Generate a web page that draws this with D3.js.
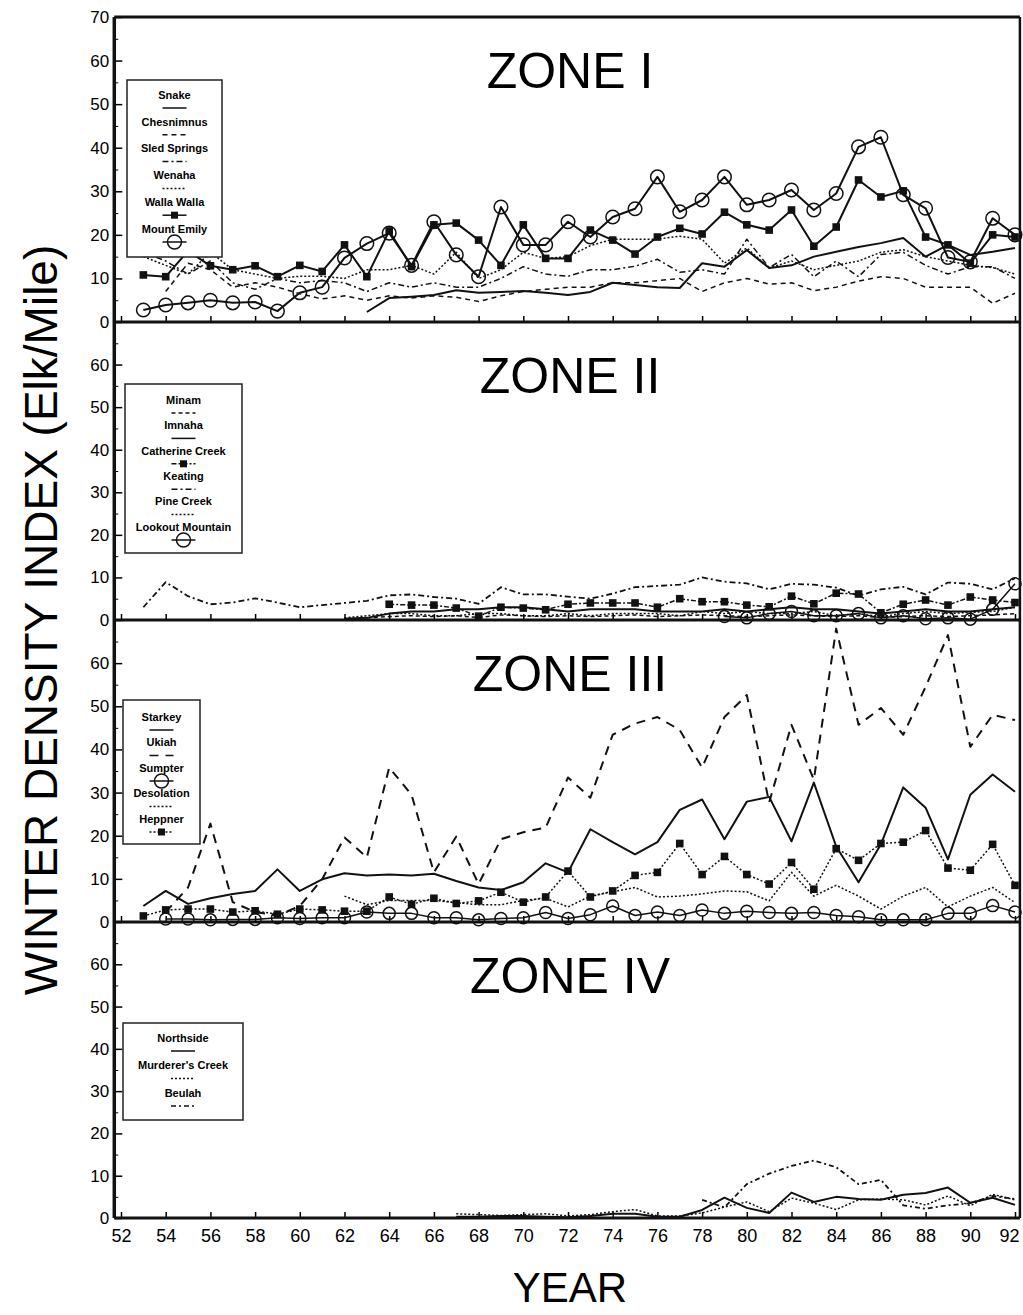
<!DOCTYPE html>
<html>
<head>
<meta charset="utf-8">
<script src="https://cdn.jsdelivr.net/npm/d3@7"></script>
<style>
body { margin: 0; background: #fff; }
svg { display: block; font-family: "Liberation Sans", Arial, sans-serif; }
</style>
</head>
<body>
<div id="chart"></div>
<script>
// Tick labels
var yearTicks = [52, 54, 56, 58, 60, 62, 64, 66, 68, 70, 72, 74, 76, 78, 80, 82, 84, 86, 88, 90, 92];
var densityTicks = [0, 10, 20, 30, 40, 50, 60];
var minorTicks = [5, 15, 25, 35, 45, 55, 65];

// Zone I (values from the start year, one per year)
var snake = [2.3, 5.5, 5.8, 6.2, 7.3, 6.7, 6.9, 7.1, 6.7, 6.2, 6.9, 9, 8.5, 8, 7.8, 13.5, 12.7, 16.5, 12.4, 13, 15, 16.1, 17.2, 18.1, 19.3, 15, 17.7, 15.4, 16.1, 17];
var chesnimnus = [7, 13.5, 12, 8, 9, 8, 6.5, 5.3, 6, 5, 6, 5.5, 6, 5.7, 4.7, 6, 7, 7.5, 8, 8, 9, 9, 9.5, 10, 7, 9, 10, 8.7, 9, 7.2, 8, 9.4, 10.4, 10, 8, 8, 8, 4.3, 6.6];
var sledSprings = [16, 14, 11, 14, 9, 7.5, 10, 9, 9.5, 9, 7, 9, 8, 9, 8, 8, 10, 12.7, 11, 10.5, 12, 12, 12.8, 14.4, 11.4, 12, 11, 19, 12.5, 15.5, 10.4, 14, 10.4, 15.5, 16, 13, 11, 12.7, 12.7, 10];
var wenaha = [15, 13, 11, 16, 12, 11, 10, 10.5, 10.5, 10, 12, 12, 13, 11, 16, 10, 12, 16, 14.6, 15, 17.5, 19, 19, 19, 19.7, 19, 13.5, 17, 12.4, 14, 12, 13, 14, 16, 16.6, 15, 14, 13, 12.5, 11];
var wallaWalla = [10.8, 10.4, 16.3, 12.9, 12, 12.9, 10.4, 13, 11.6, 17.7, 10.4, 20.9, 12.7, 22.3, 22.7, 18.8, 13, 22.3, 14.6, 14.6, 21.1, 18.8, 15.6, 19.5, 21.5, 20.2, 25.2, 22.3, 21.1, 25.7, 17.4, 21.8, 32.6, 28.7, 30.1, 19.5, 17.7, 13.5, 20, 19.5];
var mountEmily = [2.75, 3.9, 4.4, 5, 4.4, 4.6, 2.5, 6.7, 8, 14.7, 18, 20.4, 13, 23, 15.4, 10.4, 26.4, 17.7, 17.7, 23, 19.5, 24.1, 26, 33.3, 25.3, 28, 33.3, 26.9, 28, 30.3, 25.7, 29.5, 40.2, 42.4, 29.2, 26.1, 14.8, 13.8, 23.8, 20];

// Zone II
var minam = [0.5, 0.8, 1, 0.8, 1, 0.6, 1.2, 1, 0.8, 1, 0.8, 1, 1.2, 0.8, 1, 1.2, 1, 0.8, 1, 1.2, 1, 0.8, 1, 0.6, 0.8, 1, 0.8, 1, 1.2, 1.5];
var imnaha = [0.3, 0.5, 1.5, 2, 2, 2.5, 2.5, 3, 3, 2.5, 2, 2.5, 2.5, 2.5, 2, 2, 2, 2.5, 2, 2.5, 3, 2.5, 2.5, 2, 1.5, 2, 2.5, 2, 2, 2.5, 3];
var catherineCreek = [3.7, 3.5, 3.5, 2.8, 0.9, 3, 2.8, 2.4, 3.7, 4, 4, 4, 3, 5, 4.3, 4.3, 3.5, 3.1, 5.6, 3.8, 6.3, 6.1, 1.7, 3.7, 4.7, 3.5, 5.4, 4.7, 4.1];
var keating = [3, 8.9, 5.6, 3.7, 4.1, 5.1, 4.1, 3, 3.5, 4, 4.5, 5.8, 6, 5.4, 5, 3.8, 7.7, 6, 6, 5.5, 5, 6.2, 7.7, 8, 8.3, 10, 9, 8.6, 7.2, 8.5, 8.3, 7.6, 5.7, 7.2, 7.8, 6, 8.8, 8.5, 7.2, 9.8];
var pineCreek = [0.5, 1, 1.5, 1.5, 1, 1, 1.5, 1.5, 1, 1, 1.5, 1, 1.5, 1.5, 1.5, 1, 2, 1.5, 2, 1.5, 1.5, 2, 1, 1.5, 0.8, 1.5, 2, 1.5, 1.8, 2, 3];
var lookoutMountain = [0.8, 0.5, 1.5, 2, 1, 1, 1.5, 0.5, 1, 0.3, 0.5, 0.2, 2.5, 8.5];

// Zone III
var starkey = [3.7, 7.2, 4.2, 5.5, 6.5, 7.2, 12.2, 7.2, 9.9, 11.3, 10.8, 11, 10.8, 11.2, 9.5, 8, 7.4, 9.2, 13.6, 11.5, 21.5, 18.5, 15.7, 18.5, 26, 28.4, 19.2, 27.9, 29, 18.7, 32.3, 17.5, 9.2, 18, 31.2, 26.5, 14.5, 29.5, 34.2, 30.2];
var ukiah = [2.3, 8, 22.8, 4.6, 2.3, 1.5, 3.7, 9.9, 19.6, 15, 35.8, 29.5, 11.5, 19.8, 8.8, 19.2, 20.8, 21.9, 33.5, 28.8, 43.4, 46, 47.5, 44.5, 35.8, 47.5, 52.6, 27.7, 45.7, 33, 68, 45.7, 49.6, 43.4, 54.5, 66.5, 40.6, 48, 46.8];
var sumpter = [0.7, 0.7, 0.5, 0.6, 0.6, 1, 0.8, 1, 1, 2.3, 2, 2, 1, 1, 0.5, 0.8, 1, 2.2, 0.8, 1.7, 3.7, 1.5, 2.3, 1.5, 2.8, 2, 2.5, 2.2, 2, 2.2, 1.5, 1.2, 0.5, 0.5, 0.5, 2, 2, 3.8, 2.3];
var desolation = [6, 4, 5, 5, 5, 4.5, 4, 4, 5, 5.5, 3.5, 6, 7, 8, 5.8, 6, 6.5, 7.2, 7, 4.9, 11.5, 6, 8.5, 6, 3, 6, 8, 3.5, 6, 8, 4.5];
var heppner = [1.4, 2.8, 3, 3, 2.3, 2.6, 1.8, 3, 2.8, 2.5, 2.5, 5.8, 4.1, 5.5, 4.3, 4.9, 6.9, 4.6, 5.8, 11.8, 5.8, 7.2, 10.8, 11.5, 18.2, 11, 15.2, 11, 8.8, 13.8, 7.6, 17, 14.3, 18.2, 18.5, 21.2, 12.5, 12, 18, 8.5];

// Zone IV
var northside = [0.3, 0.3, 0.5, 0.5, 0.3, 0.2, 0.5, 1, 1, 0.3, 0.3, 1.9, 4.8, 2.4, 1.2, 6, 3.8, 5, 4.5, 4.3, 5.5, 5.9, 7.2, 3.6, 4.8, 3.1];
var murderersCreek = [1, 0.8, 0.6, 0.8, 1, 0.5, 0.8, 1.5, 2, 0.5, 0.5, 1.2, 2.6, 3.8, 1.5, 4.7, 3.5, 2, 4.3, 4.5, 4.3, 3.1, 5.2, 2.9, 5.6, 4.3];
var beulah = [4.3, 2.5, 8, 10.5, 12.3, 13.6, 12, 8, 9, 3, 2.2, 3, 3.5, 5.2, 4.5];

var width = 1023;
var height = 1315;

var svg = d3.select("#chart")
            .append("svg")
            .attr("width", width)
            .attr("height", height);

var x = d3.scaleLinear().domain([52, 92]).range([121, 1015]);
var frameLeft = x(51.7);
var frameRight = x(92.22);

// panel edges, top to bottom
var edges = [17, 322, 620, 922, 1218];

var zones = [
    {
        title: "ZONE I",
        legend: { x: 127, y: 80, w: 95, h: 177, first: 15, step: 26.8 },
        series: [
            { name: "Snake", start: 63, values: snake, dash: null, width: 2 },
            { name: "Chesnimnus", start: 54, values: chesnimnus, dash: "5,4", width: 1.5 },
            { name: "Sled Springs", start: 53, values: sledSprings, dash: "6,3,2,3", width: 1.5 },
            { name: "Wenaha", start: 53, values: wenaha, dash: "2,2", width: 1.5 },
            { name: "Walla Walla", start: 53, values: wallaWalla, dash: null, width: 2, marker: "square" },
            { name: "Mount Emily", start: 53, values: mountEmily, dash: null, width: 2, marker: "circle" }
        ]
    },
    {
        title: "ZONE II",
        legend: { x: 125, y: 384, w: 117, h: 169, first: 16, step: 25.4 },
        series: [
            { name: "Minam", start: 63, values: minam, dash: "4,3", width: 1.5 },
            { name: "Imnaha", start: 62, values: imnaha, dash: null, width: 2 },
            { name: "Catherine Creek", start: 64, values: catherineCreek, dash: "5,2,2,2", width: 1.5, marker: "square" },
            { name: "Keating", start: 53, values: keating, dash: "6,3,2,3", width: 1.8 },
            { name: "Pine Creek", start: 62, values: pineCreek, dash: "2,2", width: 1.5 },
            { name: "Lookout Mountain", start: 79, values: lookoutMountain, dash: null, width: 1.5, marker: "circle" }
        ]
    },
    {
        title: "ZONE III",
        legend: { x: 123, y: 700, w: 77, h: 144, first: 17, step: 25.5 },
        series: [
            { name: "Starkey", start: 53, values: starkey, dash: null, width: 2 },
            { name: "Ukiah", start: 54, values: ukiah, dash: "9,7", width: 2 },
            { name: "Sumpter", start: 54, values: sumpter, dash: null, width: 1.5, marker: "circle" },
            { name: "Desolation", start: 62, values: desolation, dash: "2,2", width: 1.5 },
            { name: "Heppner", start: 53, values: heppner, dash: "2,2", width: 1.5, marker: "square" }
        ]
    },
    {
        title: "ZONE IV",
        legend: { x: 123, y: 1023, w: 120, h: 97, first: 15, step: 27.5 },
        series: [
            { name: "Northside", start: 67, values: northside, dash: null, width: 2 },
            { name: "Murderer's Creek", start: 67, values: murderersCreek, dash: "2,2", width: 1.5 },
            { name: "Beulah", start: 78, values: beulah, dash: "5,3,2,3", width: 1.8 }
        ]
    }
];

zones.forEach(function(zone, i) {
    var top = edges[i];
    var bottom = edges[i + 1];
    var y = d3.scaleLinear().domain([0, 70]).range([bottom, top]);
    var g = svg.append("g").attr("class", "zone");

    // y axis, ticks pointing into the plot
    var labels = i === 0 ? densityTicks.concat([70]) : densityTicks;
    var yAxis = g.append("g")
        .attr("transform", "translate(" + frameLeft + ",0)")
        .call(d3.axisLeft(y).tickValues(labels).tickSize(-8).tickPadding(5));
    yAxis.select(".domain").remove();
    yAxis.selectAll("text").attr("font-size", 17).attr("font-family", "Liberation Sans, Arial, sans-serif");
    yAxis.selectAll("line").attr("stroke-width", 1.5);

    var yMinor = g.append("g")
        .attr("transform", "translate(" + frameLeft + ",0)")
        .call(d3.axisLeft(y).tickValues(minorTicks).tickSize(-4).tickFormat(""));
    yMinor.select(".domain").remove();

    // x axis ticks along the bottom edge of each zone
    var xAxis = g.append("g")
        .attr("transform", "translate(0," + bottom + ")")
        .call(d3.axisBottom(x).tickValues(yearTicks).tickSize(-6).tickPadding(11)
                .tickFormat(i === zones.length - 1 ? function(d) { return d; } : ""));
    xAxis.select(".domain").remove();
    xAxis.selectAll("text")
        .attr("font-size", 18)
        .attr("font-family", "Liberation Sans, Arial, sans-serif")
        .attr("dx", function(d) { return d === 92 ? -6 : 0; });
    xAxis.selectAll("line").attr("stroke-width", 1.5);

    // title
    g.append("text")
        .attr("x", 570)
        .attr("y", top + 71)
        .attr("text-anchor", "middle")
        .attr("font-size", 50)
        .text(zone.title);

    var line = d3.line()
        .x(function(d) { return x(d.year); })
        .y(function(d) { return y(d.v); });

    zone.series.forEach(function(s) {
        var pts = s.values.map(function(v, k) { return { year: s.start + k, v: v }; });
        g.append("path")
            .datum(pts)
            .attr("fill", "none")
            .attr("stroke", "#111")
            .attr("stroke-width", s.width)
            .attr("stroke-dasharray", s.dash)
            .attr("stroke-linejoin", "round")
            .attr("d", line);
        s.pts = pts;
    });

    // markers on top of lines
    zone.series.forEach(function(s) {
        if (s.marker === "square") {
            g.selectAll(null)
                .data(s.pts)
                .enter()
                .append("rect")
                .attr("x", function(d) { return x(d.year) - 3.8; })
                .attr("y", function(d) { return y(d.v) - 3.8; })
                .attr("width", 7.6)
                .attr("height", 7.6)
                .attr("fill", "#111");
        } else if (s.marker === "circle") {
            g.selectAll(null)
                .data(s.pts)
                .enter()
                .append("circle")
                .attr("cx", function(d) { return x(d.year); })
                .attr("cy", function(d) { return y(d.v); })
                .attr("r", i === 0 ? 6.8 : 6)
                .attr("fill", "none")
                .attr("stroke", "#111")
                .attr("stroke-width", 1.5);
        }
    });

    // legend box
    var lg = zone.legend;
    var cx = lg.x + lg.w / 2;
    g.append("rect")
        .attr("x", lg.x)
        .attr("y", lg.y)
        .attr("width", lg.w)
        .attr("height", lg.h)
        .attr("fill", "#fff")
        .attr("stroke", "#222")
        .attr("stroke-width", 1.5);

    zone.series.forEach(function(s, k) {
        var ty = lg.y + lg.first + k * lg.step;
        g.append("text")
            .attr("x", cx)
            .attr("y", ty)
            .attr("dy", "0.35em")
            .attr("text-anchor", "middle")
            .attr("font-size", 11)
            .attr("font-weight", "bold")
            .text(s.name);
        var ly = ty + 13;
        g.append("line")
            .attr("x1", cx - 12)
            .attr("x2", cx + 12)
            .attr("y1", ly)
            .attr("y2", ly)
            .attr("stroke", "#111")
            .attr("stroke-width", 1.5)
            .attr("stroke-dasharray", s.dash);
        if (s.marker === "square") {
            g.append("rect")
                .attr("x", cx - 3.5).attr("y", ly - 3.5)
                .attr("width", 7).attr("height", 7)
                .attr("fill", "#111");
        } else if (s.marker === "circle") {
            g.append("circle")
                .attr("cx", cx).attr("cy", ly)
                .attr("r", 7)
                .attr("fill", "none")
                .attr("stroke", "#111")
                .attr("stroke-width", 1.5);
        }
    });
});

// frame: left axis, panel separators, right edge
var frame = svg.append("g").attr("stroke", "#111").attr("fill", "none");
frame.append("line")
    .attr("x1", frameLeft).attr("x2", frameLeft)
    .attr("y1", edges[0]).attr("y2", edges[edges.length - 1])
    .attr("stroke-width", 3.5);
frame.append("line")
    .attr("x1", frameRight).attr("x2", frameRight)
    .attr("y1", edges[0]).attr("y2", edges[edges.length - 1])
    .attr("stroke-width", 2.5);
frame.selectAll(null)
    .data(edges)
    .enter()
    .append("line")
    .attr("x1", frameLeft)
    .attr("x2", frameRight)
    .attr("y1", function(d) { return d; })
    .attr("y2", function(d) { return d; })
    .attr("stroke-width", 3);

// axis titles
svg.append("text")
    .attr("transform", "translate(57,620) rotate(-90)")
    .attr("text-anchor", "middle")
    .attr("font-size", 46)
    .text("WINTER DENSITY INDEX (Elk/Mile)");

svg.append("text")
    .attr("x", 570)
    .attr("y", 1302)
    .attr("text-anchor", "middle")
    .attr("font-size", 42)
    .text("YEAR");
</script>
</body>
</html>
